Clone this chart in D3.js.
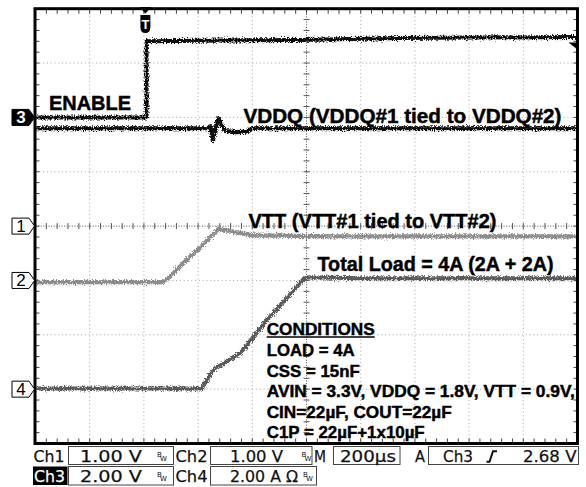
<!DOCTYPE html>
<html><head><meta charset="utf-8">
<script src="https://cdn.jsdelivr.net/npm/d3@7"></script>
<style>html,body{margin:0;padding:0;background:#fff}svg{display:block}</style>
</head><body><svg id="scope" width="586" height="487"></svg>
<script>
// Time base: 200 µs/div, trigger placed 2 divisions from the left edge
const timeDomain = [-400, 1600];
const divDomain = [-4, 4];

// Channel settings (units per division, marker offset in divisions)
const channels = ["Ch1", "Ch2", "Ch3", "Ch4"];
const channelScale = [1, 1, 2, 2];
const channelOffsetDiv = [0, -1, 2, -3];
const scaleLabels = ["1.00 V", "1.00 V", "2.00 V", "2.00 A Ω"];
const timebaseLabel = "200µs";
const triggerSourceIdx = 2;
const triggerLevel = 2.68;
const triggerLabel = "2.68 V";

// Ch3: ENABLE (V)
const enableT = [-400, 10, 10, 300, 576, 945, 1590, 1600];
const enableV = [0.0, 0.0, 2.80, 2.83, 2.85, 2.92, 2.96, 2.96];
// Ch1: VDDQ (V)
const vddqT = [-400, 230, 246, 254, 274, 300, 340, 380, 400, 1600];
const vddqV = [1.80, 1.80, 1.84, 1.58, 1.98, 1.75, 1.73, 1.74, 1.80, 1.80];
// Ch2: VTT (V)
const vttT = [-400, 72, 96, 158, 207, 275, 336, 403, 700, 1000, 1600];
const vttV = [-0.03, -0.03, 0.07, 0.38, 0.60, 0.95, 0.89, 0.83, 0.81, 0.81, 0.81];
// Ch4: total load current (A)
const loadT = [-400, 213, 255, 356, 455, 596, 800, 1200, 1600];
const loadA = [0.02, 0.02, 0.70, 1.33, 2.55, 4.12, 4.08, 4.08, 4.08];

// Annotation text
const traceLabels = ["ENABLE", "VDDQ (VDDQ#1 tied to VDDQ#2)", "VTT (VTT#1 tied to VTT#2)", "Total Load = 4A (2A + 2A)"];
const conditionsTitle = "CONDITIONS";
const conditionLines = ["LOAD = 4A", "CSS = 15nF", "AVIN = 3.3V, VDDQ = 1.8V, VTT = 0.9V,", "CIN=22µF, COUT=22µF", "C1P = 22µF+1x10µF"];

const svg = d3.select("#scope");
const L = 35.5, R = 577.5, T = 8.7, B = 443.5;
const x = d3.scaleLinear(timeDomain, [L, R]);
const y = d3.scaleLinear(divDomain, [B, T]);
const divW = (R - L) / 10, divH = (B - T) / 8;

// trace texture filter
const defs = svg.append("defs");
const f = defs.append("filter").attr("id", "grain").attr("filterUnits", "userSpaceOnUse")
  .attr("x", 0).attr("y", 0).attr("width", 586).attr("height", 487);
f.append("feTurbulence").attr("type", "fractalNoise").attr("baseFrequency", "1.1 0.8")
  .attr("numOctaves", 2).attr("seed", 3).attr("result", "n");
f.append("feDisplacementMap").attr("in", "SourceGraphic").attr("in2", "n")
  .attr("scale", 6).attr("xChannelSelector", "R").attr("yChannelSelector", "G");

// graticule
const grid = svg.append("g");
for (let i = 1; i < 10; i++) {
  if (i === 5) continue;
  grid.append("line").attr("x1", L + i * divW).attr("x2", L + i * divW).attr("y1", T).attr("y2", B)
    .attr("stroke", "#a4a4a4").attr("stroke-width", 1).attr("stroke-dasharray", "1,2.8");
}
for (let j = 1; j < 8; j++) {
  if (j === 4) continue;
  grid.append("line").attr("y1", T + j * divH).attr("y2", T + j * divH).attr("x1", L).attr("x2", R)
    .attr("stroke", "#a4a4a4").attr("stroke-width", 1).attr("stroke-dasharray", "1,2.8");
}
const cx = x(600), cy = y(0);
grid.append("line").attr("x1", cx).attr("x2", cx).attr("y1", T).attr("y2", B)
  .attr("stroke", "#555").attr("stroke-dasharray", "1,1.6");
grid.append("line").attr("x1", L).attr("x2", R).attr("y1", cy).attr("y2", cy)
  .attr("stroke", "#555").attr("stroke-dasharray", "1,1.6");
// minor ticks on crosshair and border
for (let k = 1; k < 50; k++) {
  const xx = L + k * divW / 5;
  grid.append("line").attr("x1", xx).attr("x2", xx).attr("y1", cy - 3).attr("y2", cy + 3).attr("stroke", "#555");
  grid.append("line").attr("x1", xx).attr("x2", xx).attr("y1", T).attr("y2", T + 5).attr("stroke", "#444");
  grid.append("line").attr("x1", xx).attr("x2", xx).attr("y1", B - 5).attr("y2", B).attr("stroke", "#444");
}
for (let k = 1; k < 40; k++) {
  const yy = T + k * divH / 5;
  grid.append("line").attr("y1", yy).attr("y2", yy).attr("x1", cx - 3).attr("x2", cx + 3).attr("stroke", "#555");
  grid.append("line").attr("y1", yy).attr("y2", yy).attr("x1", L).attr("x2", L + 4).attr("stroke", "#444");
  grid.append("line").attr("y1", yy).attr("y2", yy).attr("x1", R - 4).attr("x2", R).attr("stroke", "#444");
}

// traces
function trace(ts, vs, ch, color, w) {
  const line = d3.line()
    .x((d, i) => x(ts[i]))
    .y((d, i) => y(channelOffsetDiv[ch] + vs[i] / channelScale[ch]));
  svg.append("path").attr("d", line(vs)).attr("fill", "none").attr("stroke", color)
    .attr("stroke-width", w).attr("stroke-linejoin", "round").attr("filter", "url(#grain)");
}
trace(vttT, vttV, 1, "#8c8c8c", 4.2);
trace(loadT, loadA, 3, "#5a5a5a", 4);
trace(enableT, enableV, 2, "#111", 4);
trace(vddqT, vddqV, 0, "#111", 4.2);

// frame
svg.append("rect").attr("x", L - 0.5).attr("y", T).attr("width", R - L + 0.5).attr("height", B - T)
  .attr("fill", "none").attr("stroke", "#000").attr("stroke-width", 3);

// trace labels
const bold = "'Liberation Sans', Arial, sans-serif";
function label(txt, x0, base, size, len, underline) {
  const t = svg.append("text").attr("x", x0).attr("y", base).attr("font-family", bold)
    .attr("font-weight", "bold").attr("font-size", size).attr("fill", "#000")
    .attr("stroke", "#000").attr("stroke-width", 0.45)
    .attr("textLength", len).attr("lengthAdjust", "spacingAndGlyphs").text(txt);
  if (underline) svg.append("line").attr("x1", x0).attr("x2", x0 + len).attr("y1", base + 2).attr("y2", base + 2)
    .attr("stroke", "#000").attr("stroke-width", 1.6);
  return t;
}
label(traceLabels[0], 49, 110, 20, 82);
label(traceLabels[1], 243.5, 122.7, 20, 318);
label(traceLabels[2], 248.5, 228.3, 20, 248);
label(traceLabels[3], 317.5, 270.7, 20, 236);
label(conditionsTitle, 266.7, 335, 17, 108, true);
const condLen = [88, 93, 308, 185, 158];
conditionLines.forEach((c, i) => label(c, 266.7, 356 + i * 20.6, 17, condLen[i]));

// channel ground markers
function marker(ch, filled) {
  const my = y(channelOffsetDiv[ch]);
  svg.append("path")
    .attr("d", `M12,${my - 8}H29L34.5,${my}L29,${my + 8}H12Z`)
    .attr("fill", filled ? "#000" : "#fff").attr("stroke", "#000").attr("stroke-width", 1);
  svg.append("text").attr("x", 21).attr("y", my + 6).attr("text-anchor", "middle")
    .attr("font-family", bold).attr("font-weight", filled ? "bold" : "normal").attr("font-size", 17)
    .attr("fill", filled ? "#fff" : "#000").text(channels[ch].slice(2));
}
marker(0, false); marker(1, false); marker(3, false); marker(2, true);

// trigger position marker
const tx = x(0) + 1.5;
svg.append("path").attr("d", `M${tx - 6},7H${tx + 6}L${tx},13.5Z`).attr("fill", "#000");
svg.append("path").attr("d", `M${tx - 5},15H${tx + 5}V27Q${tx + 5},33 ${tx},33Q${tx - 5},33 ${tx - 5},27Z`).attr("fill", "#000");
svg.append("text").attr("x", tx).attr("y", 29).attr("text-anchor", "middle").attr("font-family", bold)
  .attr("font-weight", "bold").attr("font-size", 13).attr("fill", "#fff").text("T");
// trigger level marker
const ty = y(channelOffsetDiv[triggerSourceIdx] + triggerLevel / channelScale[triggerSourceIdx]);
svg.append("path").attr("d", `M${R - 9},${ty - 2}H${R}V${ty + 5}Z`).attr("fill", "#000");

// status readout
const mono = "'DejaVu Sans', 'Liberation Sans', sans-serif";
function stat(txt, x0, base, len, fill) {
  svg.append("text").attr("x", x0).attr("y", base).attr("font-family", mono).attr("font-size", 16.5)
    .attr("fill", fill || "#111").attr("stroke", fill || "#111").attr("stroke-width", 0.25)
    .attr("textLength", len).attr("lengthAdjust", "spacingAndGlyphs").text(txt);
}
function box(x0, y0, x1, y1) {
  svg.append("rect").attr("x", x0).attr("y", y0).attr("width", x1 - x0).attr("height", y1 - y0)
    .attr("fill", "none").attr("stroke", "#444").attr("stroke-width", 1);
}
// bandwidth-limit glyph: small B over a lowered W
function bw(x0, base) {
  const t = svg.append("text").attr("x", x0).attr("y", base - 5).attr("font-family", mono)
    .attr("font-size", 7).attr("fill", "#111");
  t.append("tspan").text("B");
  t.append("tspan").attr("dx", -1.5).attr("dy", 4).text("W");
}
const r1 = 461.7, r2 = 481.5;
stat(channels[0], 33.5, r1, 31);
box(68.5, 446.5, 173.5, 464.5); stat(scaleLabels[0], 80, r1, 62); bw(157, r1);
stat(channels[1], 175.5, r1, 32);
box(210.5, 446.5, 312, 464.5); stat(scaleLabels[1], 230, r1, 53); bw(301.5, r1);
stat("M", 314, r1, 12);
box(333.5, 446.5, 400, 464.5); stat(timebaseLabel, 340, r1, 56);
stat("A", 415, r1, 10);
box(428.5, 446.5, 578.5, 464.5); stat(channels[triggerSourceIdx], 443, r1, 30);
svg.append("path").attr("d", `M486.5,${r1}H489.5L493,${r1 - 10.5}H497`).attr("fill", "none").attr("stroke", "#111").attr("stroke-width", 2);
stat(triggerLabel, 523, r1, 53.5);

svg.append("rect").attr("x", 33).attr("y", 466.5).attr("width", 34.5).attr("height", 18.5).attr("fill", "#000");
stat(channels[2], 34, r2, 31, "#fff");
box(68.5, 466.5, 173.5, 485); stat(scaleLabels[2], 80, r2, 62); bw(157, r2);
stat(channels[3], 175.5, r2, 32);
box(210.5, 466.5, 316.5, 485); stat(scaleLabels[3], 230, r2, 68); bw(303, r2);
</script></body></html>
